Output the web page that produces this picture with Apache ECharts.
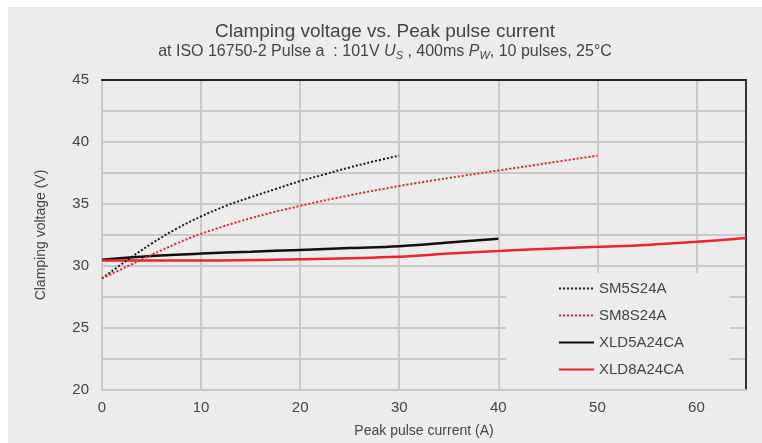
<!DOCTYPE html>
<html>
<head>
<meta charset="utf-8">
<script src="https://cdn.jsdelivr.net/npm/echarts@6/dist/echarts.min.js"></script>
<style>
html,body{margin:0;padding:0;background:#ffffff;width:762px;height:443px;overflow:hidden;}
#c{position:absolute;left:8px;top:7px;width:754px;height:436px;}
</style>
</head>
<body>
<div id="c"></div>
<script>
const seriesNames = ['SM5S24A', 'SM8S24A', 'XLD5A24CA', 'XLD8A24CA'];
const sm5X = [0, 2.5, 5, 7.5, 10, 12.5, 15, 17.5, 20, 22.5, 25, 27.5, 30];
const sm5Y = [29.0, 30.45, 31.8, 33.0, 34.0, 34.85, 35.55, 36.2, 36.85, 37.4, 37.95, 38.45, 38.9];
const sm8X = [0, 2.5, 5, 7.5, 10, 15, 20, 25, 30, 35, 40, 45, 50];
const sm8Y = [29.0, 29.95, 30.9, 31.8, 32.6, 33.85, 34.85, 35.7, 36.45, 37.1, 37.7, 38.3, 38.9];
const xld5X = [0, 5, 10, 15, 20, 25, 30, 35, 40];
const xld5Y = [30.5, 30.8, 31.0, 31.15, 31.3, 31.45, 31.6, 31.9, 32.2];
const xld8X = [0, 10, 20, 30, 35, 40, 45, 50, 55, 60, 65];
const xld8Y = [30.45, 30.45, 30.55, 30.75, 31.0, 31.2, 31.4, 31.55, 31.7, 31.95, 32.25];

const pairs = (xs, ys) => xs.map((x, i) => [x, ys[i]]);
const FONT = '"Liberation Sans", Arial, sans-serif';
const TXT = '#454545';
const GRID = '#c9c9c9';

const chart = echarts.init(document.getElementById('c'));
chart.setOption({
  backgroundColor: '#ececec',
  animation: false,
  textStyle: { fontFamily: FONT },
  title: {
    left: 'center',
    top: 10,
    itemGap: 1,
    text: 'Clamping voltage vs. Peak pulse current',
    textStyle: { fontFamily: FONT, fontSize: 19, fontWeight: 'normal', color: TXT },
    subtext: 'at ISO 16750-2 Pulse a  : 101V {i|U}{s|S} , 400ms {i|P}{s|W}, 10 pulses, 25°C',
    subtextStyle: {
      fontFamily: FONT, fontSize: 16, color: TXT, lineHeight: 19,
      rich: {
        i: { fontFamily: FONT, fontSize: 16, fontStyle: 'italic', color: TXT, lineHeight: 19 },
        s: { fontFamily: FONT, fontSize: 11, fontStyle: 'italic', color: TXT, lineHeight: 6, verticalAlign: 'bottom' }
      }
    }
  },
  grid: { left: 94, top: 73, right: 16, bottom: 53, containLabel: false },
  legend: {
    orient: 'vertical',
    left: 498, top: 266,
    padding: [8, 46, 12, 52],
    backgroundColor: '#ececec',
    itemWidth: 35, itemHeight: 14, itemGap: 12,
    itemStyle: { opacity: 0 },
    textStyle: { fontFamily: FONT, fontSize: 15, color: TXT },
    data: seriesNames
  },
  xAxis: [{
    type: 'value', min: 0, max: 65, interval: 10,
    name: 'Peak pulse current (A)', nameLocation: 'middle', nameGap: 34,
    nameTextStyle: { fontFamily: FONT, fontSize: 14, color: TXT },
    axisLine: { show: true, lineStyle: { color: GRID, width: 2 } },
    axisTick: { show: false },
    axisLabel: { fontFamily: FONT, fontSize: 15, color: TXT, margin: 10, showMaxLabel: false },
    splitLine: { show: true, lineStyle: { color: GRID, width: 2 } }
  }, {
    type: 'value', min: 0, max: 65, position: 'top',
    axisLine: { show: true, onZero: false, lineStyle: { color: '#222', width: 2 } },
    axisTick: { show: false }, axisLabel: { show: false }, splitLine: { show: false }
  }],
  yAxis: [{
    type: 'value', min: 20, max: 45, interval: 5,
    name: 'Clamping voltage (V)', nameLocation: 'middle', nameGap: 54, nameRotate: 90,
    nameTextStyle: { fontFamily: FONT, fontSize: 14, color: TXT },
    axisLine: { show: true, lineStyle: { color: GRID, width: 2 } },
    axisTick: { show: false },
    minorTick: { show: false, splitNumber: 2 },
    minorSplitLine: { show: true, lineStyle: { color: GRID, width: 2 } },
    axisLabel: { fontFamily: FONT, fontSize: 15, color: TXT, margin: 13 },
    splitLine: { show: true, lineStyle: { color: GRID, width: 2 } }
  }, {
    type: 'value', min: 20, max: 45, position: 'right',
    axisLine: { show: true, onZero: false, lineStyle: { color: '#333', width: 2 } },
    axisTick: { show: false }, axisLabel: { show: false }, splitLine: { show: false }
  }],
  series: [
    { name: seriesNames[0], type: 'line', smooth: 0.4, symbol: 'none',
      lineStyle: { color: '#1a1a1a', width: 2, type: [2, 2] }, itemStyle: { color: '#1a1a1a' },
      data: pairs(sm5X, sm5Y), z: 3 },
    { name: seriesNames[1], type: 'line', smooth: 0.4, symbol: 'none',
      lineStyle: { color: '#e8262b', width: 2, type: [2, 2] }, itemStyle: { color: '#e8262b' },
      data: pairs(sm8X, sm8Y), z: 3 },
    { name: seriesNames[2], type: 'line', smooth: 0.4, symbol: 'none',
      lineStyle: { color: '#111111', width: 2.5 }, itemStyle: { color: '#111111' },
      data: pairs(xld5X, xld5Y), z: 2 },
    { name: seriesNames[3], type: 'line', smooth: 0.4, symbol: 'none',
      lineStyle: { color: '#e8262b', width: 2.5 }, itemStyle: { color: '#e8262b' },
      data: pairs(xld8X, xld8Y), z: 2 }
  ]
});
</script>
</body>
</html>
